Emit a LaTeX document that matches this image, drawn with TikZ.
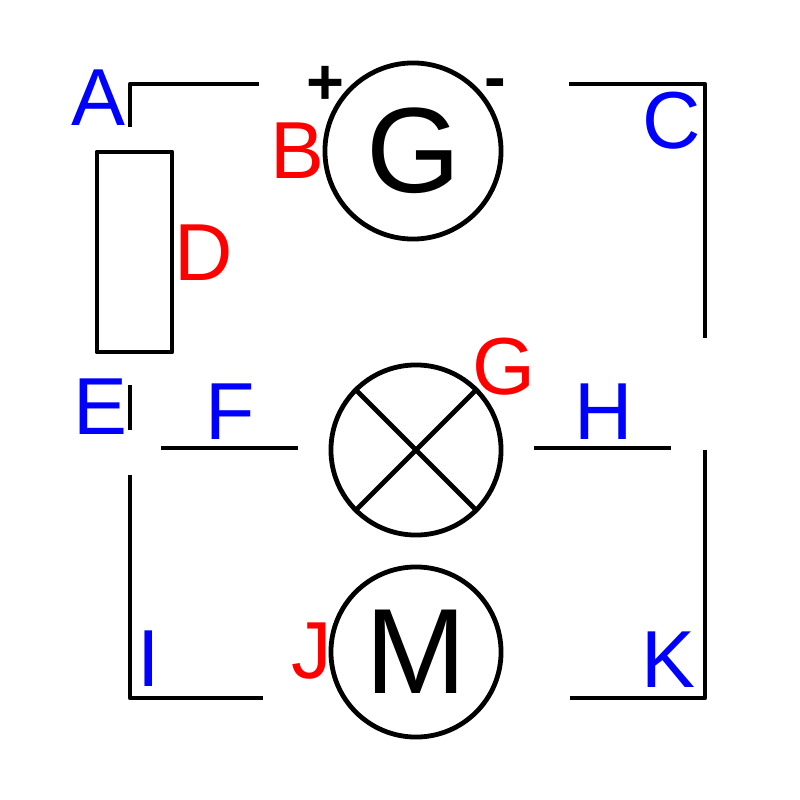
\documentclass[tikz,border=0pt]{standalone}
\usepackage{fontspec}
\setmainfont{Liberation Sans}
\usetikzlibrary{positioning}

\begin{document}
\begin{tikzpicture}[x=0.01cm,y=-0.01cm,line width=0.048cm,
	wire/.style={line join=round},
	device/.style={draw,circle,inner sep=0pt},
	bluelabel/.style={text=blue,inner sep=0pt,font=\fontsize{23}{23}\selectfont},
	redlabel/.style={text=red,inner sep=0pt,font=\fontsize{23}{23}\selectfont},
	bigletter/.style={inner sep=0pt,font=\fontsize{34.5}{34.5}\selectfont},
	polarity/.style={inner sep=0pt,font=\fontsize{18.5}{18.5}\selectfont\bfseries}]
	\useasboundingbox (0,0) rectangle (800,800);

	\node[device,minimum size=1.76cm] (gen) at (413,151) {};
	\node[device,minimum size=1.70cm] (lamp) at (416,450) {};
	\node[device,minimum size=1.70cm] (motor) at (416,652) {};
	\node[draw,line join=round,minimum width=0.75cm,minimum height=2cm,inner sep=0pt] (res) at (134.5,252) {};

	\node[bigletter] (g_big) at (414,151) {G};
	\node[bigletter] (m_big) at (416,652) {M};
	\node[polarity] (plus) at (325,85) {+};
	\node[polarity] (minus) at (495,89) {-};

	\node[bluelabel] (a) at (98,98) {A};
	\node[redlabel] (b) at (297,151) {B};
	\node[bluelabel] (c) at (672,121) {C};
	\node[redlabel] (d) at (204,253) {D};
	\node[bluelabel] (e) at (100,407) {E};
	\node[bluelabel] (f) at (230,412) {F};
	\node[redlabel] (g) at (504,367) {G};
	\node[bluelabel] (h) at (604,412) {H};
	\node[bluelabel] (i) at (149,659) {I};
	\node[redlabel] (j) at (312,651) {J};
	\node[bluelabel] (k) at (668,660) {K};

	\coordinate (w_a) at (130,127);
	\coordinate (w_b) at (259,84);
	\coordinate (w_c) at (569,84);
	\coordinate (w_d) at (705,338);
	\coordinate (w_e1) at (130,385);
	\coordinate (w_e2) at (130,430);
	\coordinate (w_f1) at (161,448);
	\coordinate (w_f2) at (298,448);
	\coordinate (w_h1) at (534,448);
	\coordinate (w_h2) at (671,448);
	\coordinate (w_k1) at (705,450);
	\coordinate (w_k2) at (570,698);
	\coordinate (w_i1) at (130,475);
	\coordinate (w_i2) at (263,698);

	\draw[wire] (w_a) |- (w_b);
	\draw[wire] (w_c) -| (w_d);
	\draw[wire] (w_e1) -- (w_e2);
	\draw[wire] (w_f1) -- (w_f2);
	\draw[wire] (w_h1) -- (w_h2);
	\draw[wire] (w_k1) |- (w_k2);
	\draw[wire] (w_i1) |- (w_i2);

	\draw (lamp.135) -- (lamp.-45);
	\draw (lamp.45) -- (lamp.-135);
\end{tikzpicture}
\end{document}
